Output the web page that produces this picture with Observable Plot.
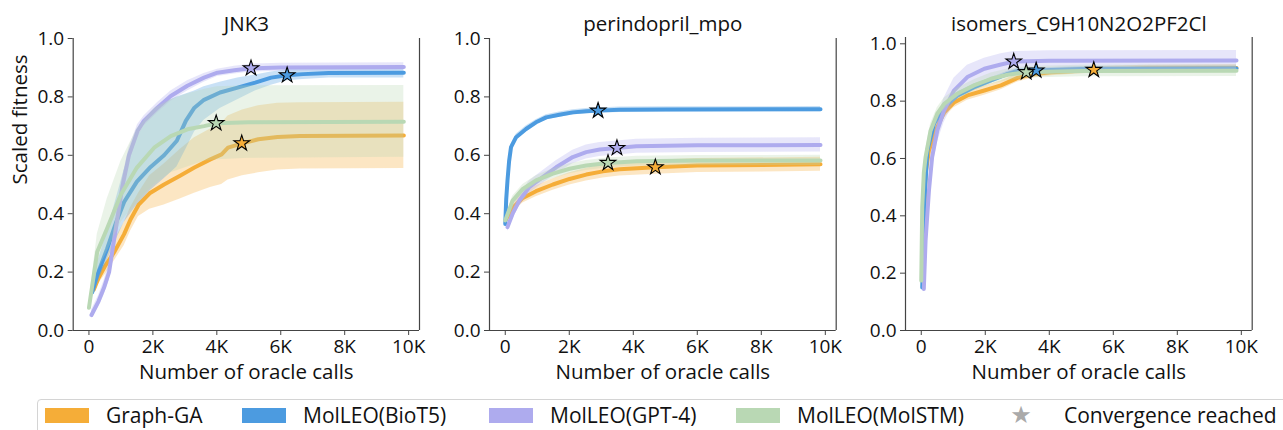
<!DOCTYPE html>
<html><head><meta charset="utf-8">
<script src="https://cdn.jsdelivr.net/npm/d3@7"></script>
<script src="https://cdn.jsdelivr.net/npm/@observablehq/plot@0.6"></script>
<style>
body{margin:0;background:#fff;font-family:"Open Sans","Noto Sans",sans-serif;}
#fig{position:relative;width:1283px;height:430px;overflow:hidden;}
.panel{position:absolute;top:0;}
#legend{position:absolute;left:37px;top:399px;width:1300px;height:40px;border:1px solid #d4d4d4;border-radius:4px;box-sizing:border-box;font-size:21px;color:#111;}
.item{position:absolute;top:0;height:30px;display:flex;align-items:center;}
.sw{width:44px;height:15px;margin-right:17px;}
</style></head><body>
<div id="fig"><div id="legend"></div></div>
<script>
// ---- data: [thousand oracle calls, mean scaled fitness, band low, band high] ----
const methods = ["Graph-GA", "MolLEO(BioT5)", "MolLEO(GPT-4)", "MolLEO(MolSTM)"];
const colors = ["#f5ad38", "#4c9be0", "#aeabee", "#b9d8b4"];
const panelTitles = ["JNK3", "perindopril_mpo", "isomers_C9H10N2O2PF2Cl"];
const xTicks = [0, 2, 4, 6, 8, 10];
const yTicks = [0, 0.2, 0.4, 0.6, 0.8, 1.0];

const jnk3_GraphGA = [[0.15,0.14,0.13,0.16],[0.3,0.18,0.16,0.21],[0.5,0.22,0.19,0.25],[0.8,0.27,0.24,0.31],[1.1,0.33,0.29,0.37],[1.3,0.38,0.34,0.42],[1.55,0.43,0.39,0.47],[1.9,0.47,0.415,0.53],[2.35,0.50,0.43,0.57],[2.85,0.53,0.45,0.62],[3.3,0.558,0.47,0.66],[3.8,0.586,0.49,0.69],[4.15,0.603,0.50,0.71],[4.35,0.626,0.515,0.735],[4.8,0.641,0.53,0.755],[5.3,0.655,0.54,0.77],[5.9,0.663,0.55,0.778],[6.6,0.666,0.553,0.78],[9.85,0.668,0.555,0.782]];
const jnk3_BioT5 = [[0.1,0.13,0.11,0.15],[0.26,0.19,0.16,0.23],[0.57,0.28,0.24,0.34],[0.85,0.37,0.31,0.45],[1.1,0.44,0.37,0.55],[1.5,0.51,0.43,0.66],[1.93,0.56,0.48,0.74],[2.35,0.60,0.52,0.78],[2.75,0.65,0.56,0.80],[3.03,0.718,0.62,0.81],[3.3,0.763,0.68,0.82],[3.6,0.79,0.72,0.835],[4.1,0.815,0.76,0.85],[4.65,0.832,0.79,0.865],[5.2,0.849,0.82,0.875],[5.7,0.866,0.84,0.885],[6.2,0.874,0.855,0.893],[6.7,0.878,0.86,0.898],[7.5,0.882,0.865,0.90],[9.85,0.883,0.865,0.90]];
const jnk3_GPT4 = [[0.08,0.053,0.04,0.07],[0.3,0.10,0.08,0.12],[0.47,0.146,0.12,0.17],[0.63,0.20,0.17,0.23],[0.78,0.306,0.27,0.34],[1.04,0.489,0.46,0.52],[1.25,0.60,0.575,0.625],[1.52,0.683,0.66,0.705],[1.72,0.718,0.70,0.735],[2.14,0.763,0.745,0.78],[2.56,0.803,0.785,0.82],[3.08,0.838,0.82,0.855],[3.6,0.866,0.85,0.88],[4.02,0.883,0.87,0.895],[4.55,0.891,0.878,0.905],[5.07,0.898,0.885,0.912],[6,0.901,0.888,0.915],[9.85,0.902,0.89,0.917]];
const jnk3_MolSTM = [[0.0,0.078,0.07,0.09],[0.26,0.27,0.2,0.33],[0.57,0.35,0.27,0.45],[1.0,0.466,0.37,0.58],[1.5,0.558,0.44,0.69],[2.04,0.626,0.50,0.76],[2.56,0.666,0.54,0.79],[3.08,0.689,0.56,0.81],[3.6,0.70,0.58,0.825],[4.0,0.71,0.585,0.835],[5.0,0.713,0.59,0.838],[9.85,0.715,0.593,0.839]];

const peri_GraphGA = [[0.02,0.38,0.37,0.39],[0.23,0.42,0.405,0.435],[0.55,0.454,0.437,0.471],[0.96,0.477,0.458,0.496],[1.49,0.50,0.48,0.52],[2.01,0.519,0.498,0.54],[2.53,0.534,0.512,0.556],[3.05,0.545,0.522,0.568],[3.57,0.552,0.529,0.575],[4.69,0.559,0.535,0.583],[6,0.565,0.541,0.589],[9.85,0.569,0.545,0.593]];
const peri_BioT5 = [[0.0,0.365,0.36,0.37],[0.03,0.45,0.44,0.46],[0.07,0.514,0.50,0.525],[0.12,0.58,0.57,0.59],[0.18,0.628,0.618,0.638],[0.34,0.662,0.652,0.672],[0.65,0.69,0.68,0.70],[0.96,0.713,0.704,0.722],[1.28,0.73,0.721,0.739],[1.69,0.739,0.73,0.748],[2.11,0.747,0.738,0.756],[2.53,0.751,0.742,0.76],[2.9,0.753,0.744,0.762],[3.57,0.756,0.747,0.765],[5,0.757,0.748,0.766],[9.85,0.758,0.749,0.767]];
const peri_GPT4 = [[0.07,0.354,0.34,0.37],[0.23,0.40,0.38,0.42],[0.44,0.445,0.425,0.465],[0.75,0.491,0.47,0.512],[1.17,0.525,0.503,0.547],[1.59,0.559,0.537,0.581],[2.11,0.594,0.571,0.617],[2.53,0.611,0.587,0.635],[2.95,0.62,0.596,0.644],[3.49,0.625,0.601,0.649],[4.1,0.631,0.607,0.655],[6,0.634,0.61,0.658],[9.85,0.635,0.611,0.66]];
const peri_MolSTM = [[0.0,0.377,0.37,0.385],[0.23,0.445,0.43,0.46],[0.55,0.485,0.47,0.50],[0.96,0.514,0.498,0.53],[1.49,0.537,0.52,0.554],[2.01,0.554,0.537,0.571],[2.53,0.565,0.548,0.582],[3.21,0.574,0.557,0.591],[4.1,0.58,0.563,0.597],[6,0.582,0.565,0.599],[9.85,0.582,0.565,0.6]];

const iso_GraphGA = [[0.05,0.17,0.15,0.19],[0.1,0.40,0.37,0.43],[0.135,0.546,0.515,0.577],[0.24,0.628,0.60,0.656],[0.5,0.709,0.685,0.733],[0.71,0.76,0.74,0.78],[1.02,0.795,0.777,0.813],[1.44,0.82,0.803,0.837],[1.97,0.837,0.821,0.853],[2.49,0.855,0.84,0.87],[3.01,0.881,0.867,0.895],[3.54,0.895,0.882,0.908],[4.06,0.901,0.889,0.913],[5.39,0.909,0.898,0.92],[7,0.914,0.903,0.925],[9.85,0.916,0.905,0.927]];
const iso_BioT5 = [[0.03,0.15,0.14,0.16],[0.1,0.45,0.43,0.47],[0.19,0.628,0.61,0.646],[0.4,0.721,0.706,0.736],[0.71,0.779,0.766,0.792],[1.13,0.82,0.808,0.832],[1.65,0.849,0.838,0.86],[2.18,0.872,0.862,0.882],[2.7,0.895,0.886,0.904],[3.01,0.905,0.896,0.914],[3.59,0.907,0.898,0.916],[5,0.912,0.903,0.921],[9.85,0.914,0.905,0.923]];
const iso_GPT4 = [[0.08,0.145,0.13,0.16],[0.135,0.314,0.28,0.35],[0.24,0.488,0.45,0.53],[0.34,0.605,0.565,0.645],[0.5,0.697,0.655,0.74],[0.71,0.767,0.725,0.81],[1.02,0.837,0.795,0.88],[1.44,0.884,0.845,0.925],[1.97,0.913,0.875,0.95],[2.49,0.928,0.892,0.965],[2.89,0.938,0.902,0.973],[4,0.941,0.906,0.976],[9.85,0.942,0.907,0.977]];
const iso_MolSTM = [[0.0,0.174,0.16,0.19],[0.03,0.43,0.40,0.46],[0.08,0.55,0.52,0.58],[0.135,0.605,0.58,0.63],[0.29,0.697,0.675,0.72],[0.5,0.756,0.735,0.777],[0.71,0.79,0.77,0.81],[1.13,0.826,0.806,0.846],[1.65,0.855,0.835,0.875],[2.18,0.878,0.858,0.898],[2.7,0.892,0.872,0.912],[3.28,0.901,0.881,0.921],[5,0.905,0.885,0.925],[9.85,0.906,0.886,0.926]];

// convergence stars: [thousand calls, fitness] per method (Graph-GA, BioT5, GPT-4, MolSTM)
const jnk3_stars = [[4.78,0.641],[6.2,0.874],[5.07,0.898],[3.98,0.71]];
const peri_stars = [[4.69,0.559],[2.9,0.753],[3.49,0.625],[3.21,0.574]];
const iso_stars = [[5.39,0.909],[3.59,0.907],[2.89,0.938],[3.28,0.901]];

// ---- layout ----
const panels = [
  {title: panelTitles[0], series: [jnk3_GraphGA, jnk3_BioT5, jnk3_GPT4, jnk3_MolSTM], stars: jnk3_stars, left: 0, width: 430, ml: 72.7, mr: 11, mt: 38, ymax: 1.0, ylabel: true},
  {title: panelTitles[1], series: [peri_GraphGA, peri_BioT5, peri_GPT4, peri_MolSTM], stars: peri_stars, left: 430, width: 430, ml: 59, mr: 24.3, mt: 38, ymax: 1.0, ylabel: false},
  {title: panelTitles[2], series: [iso_GraphGA, iso_BioT5, iso_GPT4, iso_MolSTM], stars: iso_stars, left: 855, width: 428, ml: 50, mr: 31.3, mt: 37, ymax: 1.022, ylabel: false}
];
const H = 392, MB = H - 330;
const fig = document.getElementById("fig");

panels.forEach(p => {
  const marks = [];
  p.series.forEach((s, i) => {
    const rows = s.map(([k, m, lo, hi]) => ({k, m, lo, hi}));
    marks.push(Plot.areaY(rows, {x: "k", y1: "lo", y2: "hi", fill: colors[i], fillOpacity: 0.3}));
    marks.push(Plot.lineY(rows, {x: "k", y: "m", stroke: colors[i], strokeWidth: 4, strokeLinejoin: "round"}));
  });
  const starRows = p.stars.map(([k, v], i) => ({k, v, c: colors[i]}));
  marks.push(Plot.dot(starRows, {x: "k", y: "v", symbol: "star", r: 4.9, fill: "c", stroke: "black", strokeWidth: 1.1}));
  marks.push(Plot.ruleX([-0.4925], {stroke: "#444", strokeWidth: 1.2}));
  marks.push(Plot.ruleY([0], {stroke: "#444", strokeWidth: 1.2}));
  marks.push(Plot.ruleX([10.34], {stroke: "#444", strokeWidth: 1.2}));
  marks.push(Plot.axisX({ticks: xTicks, tickFormat: d => d === 0 ? "0" : d + "K", tickSize: 5, tickPadding: 4, fontSize: 19, label: null, stroke: "#444", fill: "#111"}));
  marks.push(Plot.axisY({ticks: yTicks, tickFormat: d3.format(".1f"), tickSize: 5, tickPadding: 4, fontSize: 19, label: null, stroke: "#444", fill: "#111"}));
  marks.push(Plot.text([p.title], {frameAnchor: "top", dy: -(p.mt - 24), fontSize: 20.5, fill: "#111", lineAnchor: "middle"}));
  marks.push(Plot.text(["Number of oracle calls"], {frameAnchor: "bottom", dy: 41.5, fontSize: 20.5, fill: "#111", lineAnchor: "middle"}));
  if (p.ylabel) marks.push(Plot.text(["Scaled fitness"], {frameAnchor: "left", dx: -52.7, rotate: -90, fontSize: 20.5, fill: "#111", lineAnchor: "middle"}));
  const chart = Plot.plot({
    width: p.width, height: H,
    marginLeft: p.ml, marginRight: p.mr, marginTop: p.mt, marginBottom: MB,
    style: {fontFamily: "'Open Sans','Noto Sans',sans-serif", color: "#111", background: "white", overflow: "visible"},
    x: {domain: [-0.4925, 10.34]},
    y: {domain: [0, p.ymax]},
    marks
  });
  chart.classList.add("panel");
  chart.style.left = p.left + "px";
  fig.appendChild(chart);
});

// ---- legend ----
const legend = document.getElementById("legend");
const legendX = [7, 204, 451, 698];
methods.forEach((m, i) => {
  const it = document.createElement("div");
  it.className = "item";
  it.style.left = legendX[i] + "px";
  it.innerHTML = `<div class="sw" style="background:${colors[i]}"></div><span>${m}</span>`;
  legend.appendChild(it);
});
const st = document.createElement("div");
st.className = "item";
st.style.left = "972px";
st.innerHTML = `<span style="color:#aaaaaa;font-size:24px;font-family:'DejaVu Sans';width:22px;display:inline-block;text-align:center;margin-right:32px">★</span><span>Convergence reached</span>`;
legend.appendChild(st);
</script>
</body></html>
